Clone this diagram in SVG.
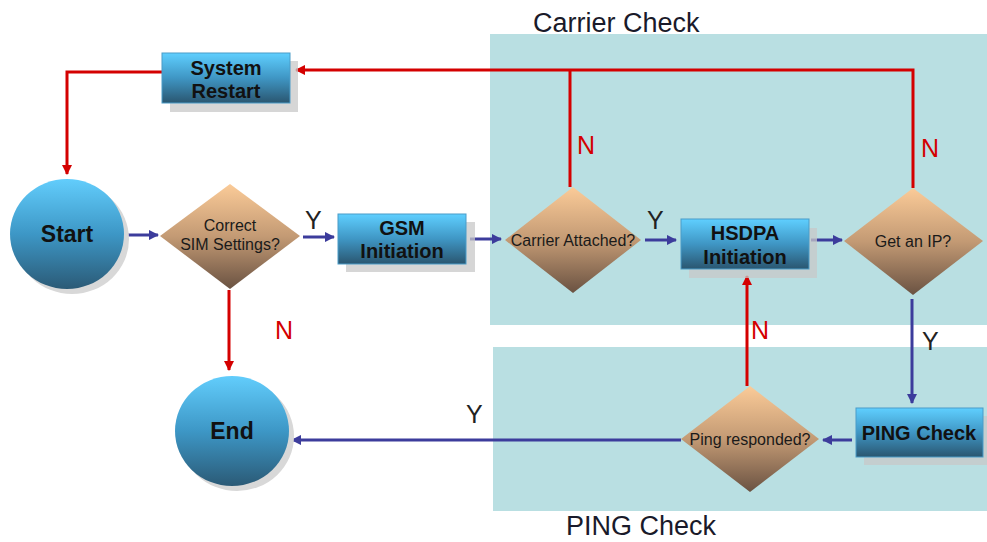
<svg xmlns="http://www.w3.org/2000/svg" width="987" height="542" viewBox="0 0 987 542">
<style>
.region{fill:#b9dfe2}
.title{font-family:"Liberation Sans",Arial,sans-serif;font-size:27px;fill:#1a1a2a}
.box{fill:url(#boxg);stroke:#4a9cc8;stroke-width:1}
.shadow{fill:#c8c8c8;opacity:0.75}
.circ{fill:url(#circg)}
.dia{fill:url(#diag)}
.bt{font-family:"Liberation Sans",Arial,sans-serif;font-weight:bold;font-size:20px;fill:#111;text-anchor:middle}
.ct{font-family:"Liberation Sans",Arial,sans-serif;font-weight:bold;font-size:23px;fill:#111;text-anchor:middle}
.dt{font-family:"Liberation Sans",Arial,sans-serif;font-size:16px;fill:#1a1a1a;text-anchor:middle}
.red{stroke:#d40000;stroke-width:3;fill:none}
.blue{stroke:#3c3c9c;stroke-width:3;fill:none}
.yn{font-family:"Liberation Sans",Arial,sans-serif;font-size:25px}
.n{fill:#d40000}
.y{fill:#222}
</style>
<defs>
<linearGradient id="boxg" x1="0" y1="0" x2="0" y2="1">
<stop offset="0" stop-color="#5fcfff"/>
<stop offset="0.5" stop-color="#3f96c4"/>
<stop offset="1" stop-color="#2a5670"/>
</linearGradient>
<linearGradient id="circg" x1="0" y1="0" x2="0" y2="1">
<stop offset="0" stop-color="#62cdfc"/>
<stop offset="0.5" stop-color="#3d97c6"/>
<stop offset="1" stop-color="#2b5a76"/>
</linearGradient>
<linearGradient id="diag" x1="0" y1="0" x2="0" y2="1">
<stop offset="0" stop-color="#fbcb98"/>
<stop offset="0.5" stop-color="#c39a74"/>
<stop offset="1" stop-color="#6a5242"/>
</linearGradient>
<marker id="ar" viewBox="0 0 10 10" refX="9" refY="5" markerWidth="3.5" markerHeight="3.5" orient="auto" markerUnits="strokeWidth">
<path d="M0,0 L10,5 L0,10 z" fill="#d40000"/>
</marker>
<marker id="ab" viewBox="0 0 10 10" refX="9" refY="5" markerWidth="3.5" markerHeight="3.5" orient="auto" markerUnits="strokeWidth">
<path d="M0,0 L10,5 L0,10 z" fill="#3c3c9c"/>
</marker>
</defs>

<g id="regions">
<rect class="region" x="490" y="34" width="497" height="291"/>
<rect class="region" x="493" y="347" width="494" height="164"/>
<text class="title" x="533" y="32">Carrier Check</text>
<text class="title" x="566" y="535">PING Check</text>
</g>

<g id="connectors">
<path class="red" d="M913,188 V70 H296" marker-end="url(#ar)"/>
<path class="red" d="M570,187 V70"/>
<path class="red" d="M162,72 H67 V174" marker-end="url(#ar)"/>
<path class="red" d="M229,290 V370" marker-end="url(#ar)"/>
<path class="red" d="M747,386 V276" marker-end="url(#ar)"/>
<path class="blue" d="M127,235 H158" marker-end="url(#ab)"/>
<path class="blue" d="M303,237 H334" marker-end="url(#ab)"/>
<path class="blue" d="M470,239 H501" marker-end="url(#ab)"/>
<path class="blue" d="M645,240 H676" marker-end="url(#ab)"/>
<path class="blue" d="M811,240 H842" marker-end="url(#ab)"/>
<path class="blue" d="M912,299 V403" marker-end="url(#ab)"/>
<path class="blue" d="M852,440 H823" marker-end="url(#ab)"/>
<path class="blue" d="M681,440 H292" marker-end="url(#ab)"/>
<text class="yn n" x="577" y="154">N</text>
<text class="yn n" x="921" y="157">N</text>
<text class="yn n" x="275" y="339">N</text>
<text class="yn n" x="751" y="339">N</text>
<text class="yn y" x="305" y="229">Y</text>
<text class="yn y" x="647" y="229">Y</text>
<text class="yn y" x="922" y="350">Y</text>
<text class="yn y" x="466" y="423">Y</text>
</g>

<g id="system-restart">
<rect class="shadow" x="170" y="61" width="128" height="51"/>
<rect class="box" x="162" y="53" width="128" height="50"/>
<text class="bt" x="226" y="75">System</text>
<text class="bt" x="226" y="98">Restart</text>
</g>

<g id="start">
<ellipse cx="72" cy="239" rx="57" ry="55" fill="#d8d8d8"/>
<ellipse class="circ" cx="67" cy="234" rx="57" ry="55"/>
<text class="ct" x="67" y="242">Start</text>
</g>

<g id="end">
<ellipse cx="237" cy="436" rx="57" ry="55" fill="#d8d8d8"/>
<ellipse class="circ" cx="232" cy="431" rx="57" ry="55"/>
<text class="ct" x="232" y="439">End</text>
</g>

<g id="correct-sim">
<polygon class="dia" points="230,184 300,236 230,289 160,236"/>
<text class="dt" x="230" y="231">Correct</text>
<text class="dt" x="230" y="250">SIM Settings?</text>
</g>

<g id="gsm">
<rect class="shadow" x="346" y="222" width="129" height="50"/>
<rect class="box" x="338" y="214" width="128" height="50"/>
<text class="bt" x="402" y="235">GSM</text>
<text class="bt" x="402" y="258">Initiation</text>
</g>

<g id="carrier-attached">
<polygon class="dia" points="573,187 641,240 573,293 505,240"/>
<text class="dt" x="573" y="246">Carrier Attached?</text>
</g>

<g id="hsdpa">
<rect class="shadow" x="689" y="228" width="128" height="50"/>
<rect class="box" x="681" y="219" width="128" height="50"/>
<text class="bt" x="745" y="240">HSDPA</text>
<text class="bt" x="745" y="264">Initiation</text>
</g>

<g id="get-ip">
<polygon class="dia" points="913,188 983,241 913,295 844,241"/>
<text class="dt" x="913" y="247">Get an IP?</text>
</g>

<g id="ping-check">
<rect class="shadow" x="864" y="416" width="123" height="49"/>
<rect class="box" x="856" y="408" width="127" height="49"/>
<text class="bt" x="919" y="440">PING Check</text>
</g>

<g id="ping-responded">
<polygon class="dia" points="750,386 819,439 750,492 681,439"/>
<text class="dt" x="750" y="445">Ping responded?</text>
</g>
</svg>
